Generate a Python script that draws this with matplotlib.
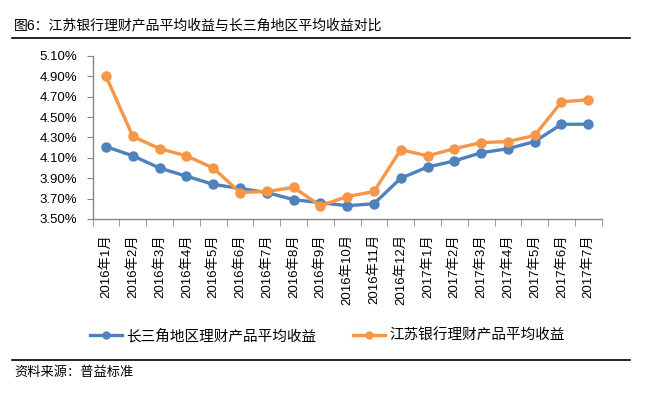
import numpy as np
import matplotlib.pyplot as plt
from matplotlib.lines import Line2D

plt.rcParams['font.family'] = ['Liberation Sans', 'Noto Sans CJK SC', 'DejaVu Sans']

months = ['2016年1月', '2016年2月', '2016年3月', '2016年4月', '2016年5月', '2016年6月',
          '2016年7月', '2016年8月', '2016年9月', '2016年10月', '2016年11月', '2016年12月',
          '2017年1月', '2017年2月', '2017年3月', '2017年4月', '2017年5月', '2017年6月',
          '2017年7月']
csj = [4.21, 4.12, 4.00, 3.92, 3.84, 3.80, 3.76, 3.69, 3.66, 3.63, 3.65, 3.90,
       4.01, 4.07, 4.15, 4.19, 4.26, 4.43, 4.43]
jsyh = [4.90, 4.31, 4.19, 4.12, 4.00, 3.76, 3.77, 3.81, 3.63, 3.72, 3.77, 4.18,
        4.12, 4.19, 4.25, 4.26, 4.32, 4.65, 4.67]
yticks = [3.50, 3.70, 3.90, 4.10, 4.30, 4.50, 4.70, 4.90, 5.10]

blue = '#4F81BD'
orange = '#F79646'
gray = '#868686'

fig = plt.figure(figsize=(6.55, 3.96), dpi=100)
ax = fig.add_axes([0.1415, 0.447, 0.7771, 0.4116])

x = np.arange(len(months))
ax.plot(x, csj, color=blue, lw=2.4, marker='o', ms=6.5, label='长三角地区理财产品平均收益')
ax.plot(x, jsyh, color=orange, lw=2.4, marker='o', ms=6.5, label='江苏银行理财产品平均收益')

ax.set_xlim(-0.5, len(months) - 0.5)
ax.set_ylim(3.50, 5.10)
ax.set_yticks(yticks)
ax.set_yticklabels(['%.2f%%' % v for v in yticks], fontsize=9.5)
ax.set_xticks(x)
ax.set_xticklabels(months, rotation=90, fontsize=9.5, va='top')
ax.set_xticks(np.arange(len(months) + 1) - 0.5, minor=True)
ax.tick_params(axis='x', which='major', length=0, pad=11)
ax.tick_params(axis='x', which='minor', length=5, color=gray, direction='out')
ax.tick_params(axis='y', length=4, color=gray, direction='out', pad=7)

for s in ['top', 'right']:
    ax.spines[s].set_visible(False)
for s in ['left', 'bottom']:
    ax.spines[s].set_color(gray)
    ax.spines[s].set_linewidth(1)

handles = [Line2D([], [], color=blue, lw=2.4, marker='o', ms=5),
           Line2D([], [], color=orange, lw=2.4, marker='o', ms=5)]
fig.legend(handles, ['长三角地区理财产品平均收益', '江苏银行理财产品平均收益'],
           loc='center', bbox_to_anchor=(0.5, 1 - 336 / 396), ncol=2, frameon=False,
           fontsize=10.5, handlelength=2.2, handletextpad=0.3, columnspacing=2.5)

fig.text(14 / 655, 1 - 25 / 396, '图6：江苏银行理财产品平均收益与长三角地区平均收益对比',
         fontsize=10, va='center', ha='left')
fig.text(14 / 655, 1 - 373 / 396, '资料来源：普益标准', fontsize=9.5, va='center', ha='left')
fig.add_artist(Line2D([12 / 655, 630 / 655], [1 - 38 / 396] * 2, color='black', lw=1.2))
fig.add_artist(Line2D([12 / 655, 630 / 655], [1 - 360 / 396] * 2, color='black', lw=1.2))

fig.savefig('out.png', dpi=100)
